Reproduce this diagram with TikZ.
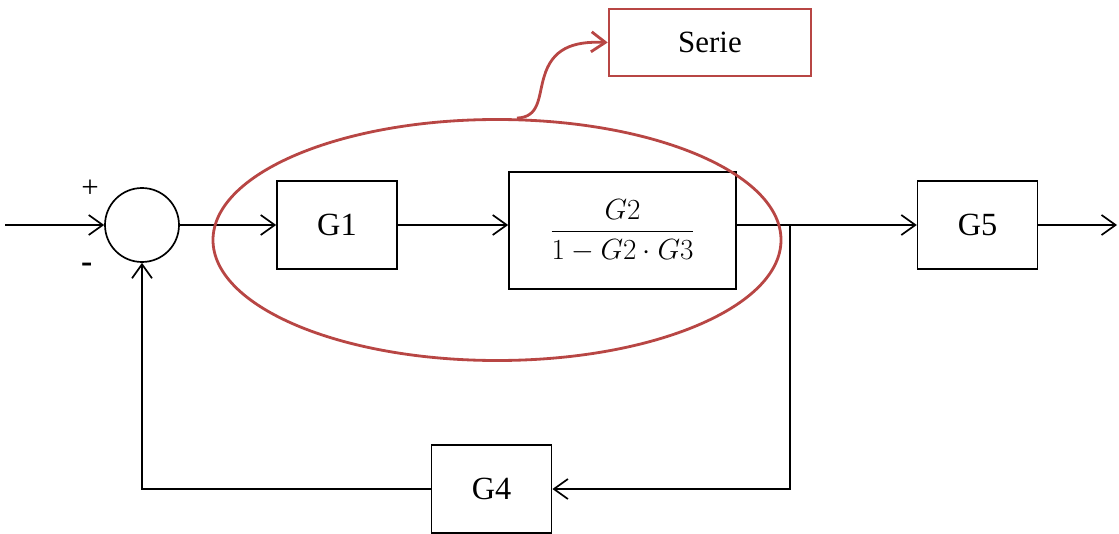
\documentclass[tikz,border=0pt]{standalone}
\usepackage{fontspec}
\setmainfont{Liberation Serif}
\usepackage{amsmath}
\usetikzlibrary{arrows.meta, calc, shapes.geometric, positioning}

\definecolor{serred}{RGB}{184,70,68}

\begin{document}
\begin{tikzpicture}[
    >={Straight Barb[length=3.5mm,width=5mm]},
    line width=1.2pt,
    blk/.style={draw, minimum width=3cm, minimum height=2.2cm, font=\fontsize{23}{26}\selectfont},
]
    \useasboundingbox (0,0) rectangle (27.975,13.325);
    % summing junction
    \node[draw, circle, minimum size=1.85cm, inner sep=0pt] (sum) at (3.55,7.7) {};
    \coordinate (in) at (0.125,7.7);
    \node[font=\fontsize{22}{24}\selectfont] (plus) at (2.25,8.6) {+};
    \node[font=\fontsize{24}{26}\selectfont\bfseries] (minus) at (2.17,6.62) {-};

    % blocks
    \node[blk] (g1) at (8.425,7.7) {G1};
    \node[
        blk,
        minimum width=5.675cm,
        minimum height=2.925cm,
        font=\fontsize{22}{26}\selectfont
    ] (g23) at (15.5625,7.5625) {$\dfrac{G2}{1 - G2\cdot G3}$};
    \node[blk] (g5) at (24.44,7.7) {G5};
    \node[blk] (g4) at (12.29,1.1) {G4};
    \coordinate (branch) at (19.75,7.7);
    \coordinate (out) at (27.925,7.7);

    % connections
    \draw[->] (in) -- (sum.west);
    \draw[->] (sum.east) -- (g1.west);
    \draw[->] (g1.east) -- (g1.east -| g23.west);
    \draw (g1.east -| g23.east) -- (branch);
    \draw[->] (branch) -- (g5.west);
    \draw[->] (g5.east) -- (out);
    \draw[->] (branch) |- (g4.east);
    \draw[->] (g4.west) -| (sum.south);

    % series grouping
    \node[
        draw=serred,
        ellipse,
        line width=2pt,
        inner sep=0pt,
        minimum width=14.2cm,
        minimum height=6.025cm
    ] (ser) at (12.425,7.325) {};
    \node[
        draw=serred,
        line width=1.8pt,
        minimum width=5.05cm,
        minimum height=1.675cm,
        font=\fontsize{22}{24}\selectfont
    ] (serie) at (17.75,12.2625) {Serie};
    \draw[->, serred, line width=2pt] ($(ser.north)+(0.5,0)$)
        .. controls (13.5,10.4) and (13.45,10.9) .. (13.6,11.4)
        .. controls (13.8,12.1) and (14.3,12.3) .. (serie.west);
\end{tikzpicture}
\end{document}
